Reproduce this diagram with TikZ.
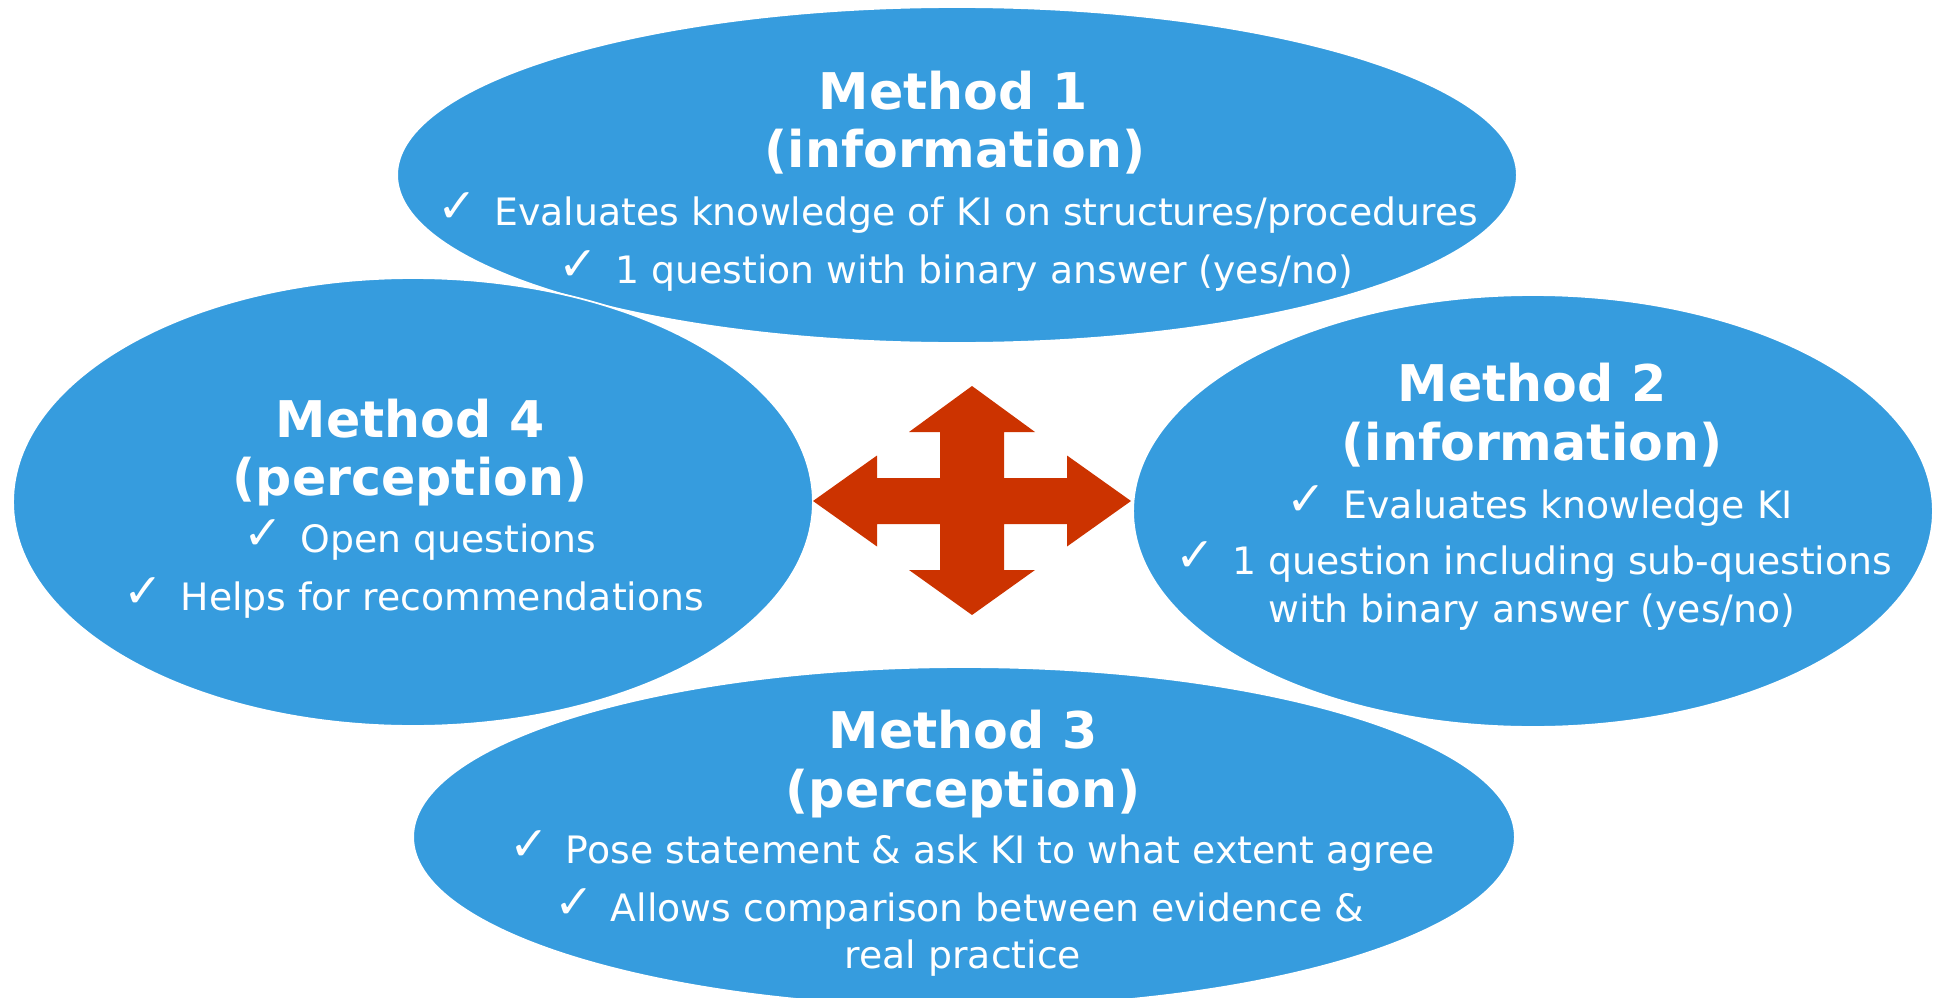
\documentclass[tikz,border=0pt]{standalone}
\usepackage{fontspec}
\setmainfont{DejaVu Sans}
\usetikzlibrary{shapes.geometric}
\definecolor{methodblue}{RGB}{54,156,222}
\definecolor{crossred}{RGB}{204,51,0}
\newcommand{\chkmark}{{\fontsize{27}{27}\selectfont\raisebox{1.5pt}{✓}}\hspace{0.45em}}

\begin{document}
\begin{tikzpicture}[x=0.02cm,y=-0.02cm,
  blob/.style={ellipse,fill=methodblue,draw=white,line width=1pt,inner sep=0pt},
  head/.style={text=white,font=\fontsize{28.8}{34}\selectfont\bfseries,anchor=base,inner sep=0pt},
  item/.style={text=white,font=\fontsize{21.5}{26}\selectfont,anchor=base,inner sep=0pt}]
  \useasboundingbox (0,0) rectangle (1936,997);
  % the four methods
  \node[blob,minimum width=22.4cm,minimum height=6.72cm] (m1) at (957,175){};
  \node[blob,minimum width=16cm,minimum height=8.96cm] (m4) at (413,502){};
  \node[blob,minimum width=16cm,minimum height=8.64cm] (m2) at (1533,511){};
  \node[blob,minimum width=22.04cm,minimum height=6.8cm] (m3) at (964,837){};
  % cross in the middle
  \fill[crossred,shift={(972,501)}] (0,-115) -- (63,-69) -- (32,-69) -- (32,-23) -- (95,-23) -- (95,-45.5)
    -- (159,0) -- (95,45.5) -- (95,23) -- (32,23) -- (32,69) -- (63,69) -- (0,114) -- (-63,69)
    -- (-32,69) -- (-32,23) -- (-95,23) -- (-95,45.5) -- (-159,0) -- (-95,-45.5) -- (-95,-23)
    -- (-32,-23) -- (-32,-69) -- (-63,-69) -- cycle;
  % texts
  \node[head] (m1h) at (953,110){Method 1};
  \node[head] (m1s) at (955,167){(information)};
  \node[item] (m1a) at (958,225){\chkmark Evaluates knowledge of KI on structures/procedures};
  \node[item] (m1b) at (956,283){\chkmark 1 question with binary answer (yes/no)};
  \node[head] (m4h) at (410,437){Method 4};
  \node[head] (m4s) at (410,495){(perception)};
  \node[item] (m4a) at (420,552){\chkmark Open questions};
  \node[item] (m4b) at (414,610){\chkmark Helps for recommendations};
  \node[head] (m2h) at (1532,401){Method 2};
  \node[head] (m2s) at (1532,460){(information)};
  \node[item] (m2a) at (1540,518){\chkmark Evaluates knowledge KI};
  \node[item] (m2b) at (1534,574){\chkmark 1 question including sub-questions};
  \node[item] (m2c) at (1532,622){with binary answer (yes/no)};
  \node[head] (m3h) at (963,748){Method 3};
  \node[head] (m3s) at (963,807){(perception)};
  \node[item] (m3a) at (972,863){\chkmark Pose statement \& ask KI to what extent agree};
  \node[item] (m3b) at (959,921){\chkmark Allows comparison between evidence \&};
  \node[item] (m3c) at (963,968){real practice};
\end{tikzpicture}
\end{document}
